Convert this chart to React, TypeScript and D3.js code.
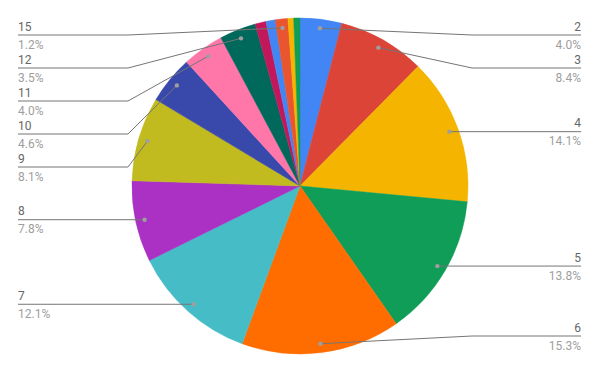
import React from "react";
import * as d3 from "d3";

const categories = ["2", "3", "4", "5", "6", "7", "8", "9", "10", "11", "12", "13", "14", "15", "16", "17"];
const values = [4.0, 8.4, 14.1, 13.8, 15.3, 12.1, 7.8, 8.1, 4.6, 4.0, 3.5, 1.05, 0.9, 1.2, 0.55, 0.6];
const colors = [
  "#4285F4", "#DB4437", "#F4B400", "#0F9D58", "#FF6D00", "#46BDC6",
  "#AB30C4", "#C2BB1F", "#3949AB", "#FF77A9", "#00695C", "#C2185B",
  "#4285F4", "#E8552E", "#F4B400", "#0F9D58",
];

const W = 600, H = 371;
const cx = 300, cy = 186, R = 168;
const dotR = 159;
const minLabel = 1.15;
const topY = 35, botY = 336, gap = 33;
const rightKnee = 472, leftKnee = 128, rightEnd = 581, leftEnd = 18;

export default function App() {
  const total = d3.sum(values);
  const pie = d3.pie<number>().sort(null).value((d) => d);
  const arcs = pie(values);
  const arc = d3.arc<d3.PieArcDatum<number>>().innerRadius(0).outerRadius(R);

  type L = { i: number; px: number; py: number; y: number; right: boolean };
  const labels: L[] = [];
  arcs.forEach((a, i) => {
    if (values[i] < minLabel) return;
    const m = (a.startAngle + a.endAngle) / 2;
    const px = cx + dotR * Math.sin(m);
    const py = cy - dotR * Math.cos(m);
    labels.push({ i, px, py, y: py, right: m < Math.PI });
  });
  const layout = (arr: L[]) => {
    arr.sort((a, b) => a.py - b.py);
    let prev = -Infinity;
    arr.forEach((l) => {
      l.y = Math.max(l.py, topY, prev + gap);
      prev = l.y;
    });
    let next = Infinity;
    for (let k = arr.length - 1; k >= 0; k--) {
      arr[k].y = Math.min(arr[k].y, botY, next - gap);
      next = arr[k].y;
    }
  };
  const rightL = labels.filter((l) => l.right);
  const leftL = labels.filter((l) => !l.right);
  layout(rightL);
  layout(leftL);

  return (
    <svg width={W} height={H} style={{ position: "absolute", left: 0, top: 0, fontFamily: "Roboto, sans-serif" }}>
      <rect width={W} height={H} fill="#fff" />
      <g transform={`translate(${cx},${cy})`}>
        {arcs.map((a, i) => (
          <path key={i} d={arc(a) || ""} fill={colors[i]} stroke={colors[i]} strokeWidth={0.5} />
        ))}
      </g>
      {[...rightL, ...leftL].map((l) => {
        const knee = l.right ? rightKnee : leftKnee;
        const end = l.right ? rightEnd : leftEnd;
        const straight = Math.abs(l.y - l.py) < 0.5;
        const pts = straight ? `${l.px},${l.py} ${end},${l.y}` : `${l.px},${l.py} ${knee},${l.y} ${end},${l.y}`;
        const pct = ((values[l.i] / total) * 100).toFixed(1) + "%";
        return (
          <g key={l.i}>
            <polyline points={pts} fill="none" stroke="#757575" strokeWidth={1} />
            <circle cx={l.px} cy={l.py} r={2.2} fill="#9e9e9e" />
            <text x={end} y={l.y - 4.5} fontSize={12} fill="#666666" textAnchor={l.right ? "end" : "start"}>
              {categories[l.i]}
            </text>
            <text x={end} y={l.y + 13.5} fontSize={12} fill="#9e9e9e" textAnchor={l.right ? "end" : "start"}>
              {pct}
            </text>
          </g>
        );
      })}
    </svg>
  );
}
